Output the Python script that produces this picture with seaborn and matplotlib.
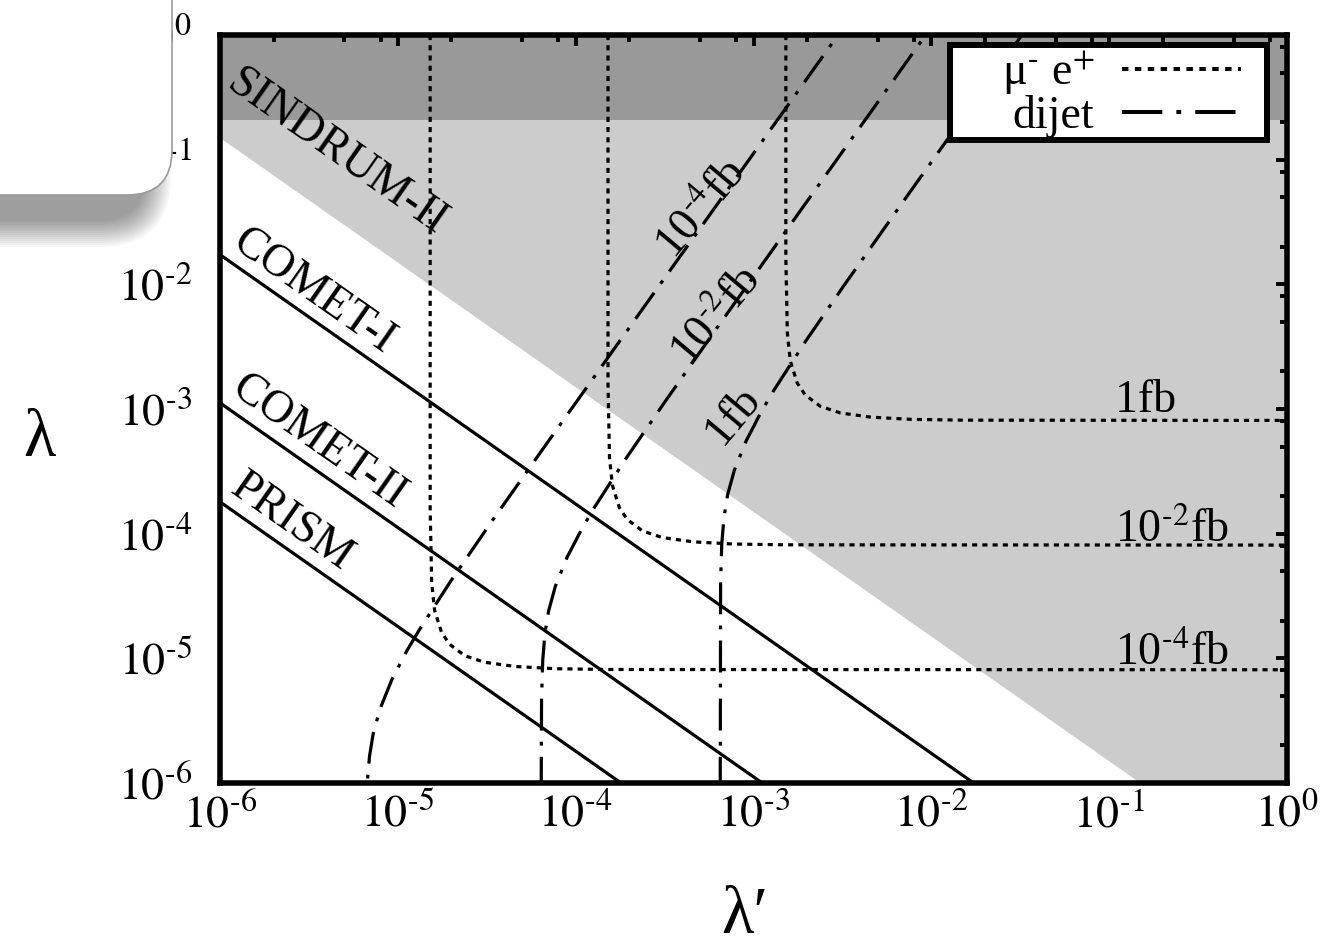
import matplotlib
matplotlib.use("Agg")
import matplotlib.pyplot as plt
import seaborn as sns
from matplotlib.lines import Line2D
from matplotlib.patches import FancyBboxPatch, Rectangle
from matplotlib.ticker import FixedLocator, FixedFormatter, LogLocator, NullFormatter
from matplotlib.transforms import IdentityTransform

# decades on both axes
decades = [1e-6, 1e-5, 1e-4, 1e-3, 1e-2, 1e-1, 1e0]
decade_labels = [r"$10^{\text{-}6}$", r"$10^{\text{-}5}$", r"$10^{\text{-}4}$", r"$10^{\text{-}3}$",
                 r"$10^{\text{-}2}$", r"$10^{\text{-}1}$", r"$10^{0}$"]

# SINDRUM-II excluded region (above lambda*lambda' line) and upper band
sindrum_x = [1e-6, 0.15, 1.0]
sindrum_y = [0.15, 1e-6, 1e-6]
band_low = 0.21

# future mu-e conversion reach
comet1_x = [1e-6, 1.73e-2]
comet1_y = [1.73e-2, 1e-6]
comet2_x = [1e-6, 1.12e-3]
comet2_y = [1.12e-3, 1e-6]
prism_x = [1e-6, 1.8e-4]
prism_y = [1.8e-4, 1e-6]

# mu- e+ cross section contours
mue_1e4_x = [1.52e-5, 1.52e-5, 1.55e-5, 1.61e-5, 1.76e-5, 1.95e-5, 2.38e-5, 3.08e-5, 4.59e-5, 7.7e-5, 1.52e-4, 1.0]
mue_1e4_y = [1.0, 1.6e-4, 4.05e-5, 2.43e-5, 1.62e-5, 1.30e-5, 1.05e-5, 9.3e-6, 8.6e-6, 8.26e-6, 8.14e-6, 8.1e-6]
mue_1e2_x = [1.52e-4, 1.52e-4, 1.55e-4, 1.61e-4, 1.76e-4, 1.95e-4, 2.38e-4, 3.08e-4, 4.59e-4, 7.7e-4, 1.52e-3, 1.0]
mue_1e2_y = [1.0, 1.6e-3, 4.05e-4, 2.43e-4, 1.62e-4, 1.30e-4, 1.05e-4, 9.3e-5, 8.6e-5, 8.26e-5, 8.14e-5, 8.1e-5]
mue_1fb_x = [1.52e-3, 1.52e-3, 1.55e-3, 1.61e-3, 1.76e-3, 1.95e-3, 2.38e-3, 3.08e-3, 4.59e-3, 7.7e-3, 1.52e-2, 1.0]
mue_1fb_y = [1.0, 1.6e-2, 4.05e-3, 2.43e-3, 1.62e-3, 1.30e-3, 1.05e-3, 9.3e-4, 8.6e-4, 8.26e-4, 8.14e-4, 8.1e-4]

# dijet cross section contours
dijet_1e4_x = [6.63e-6, 6.73e-6, 6.93e-6, 7.26e-6, 7.92e-6, 9.24e-6, 1.12e-5, 1.32e-5, 1.98e-5, 3.3e-5, 6.6e-5, 1.98e-4, 6.6e-4, 3.3e-3]
dijet_1e4_y = [4.9e-7, 1.0e-6, 1.64e-6, 2.46e-6, 3.89e-6, 6.71e-6, 1.14e-5, 1.69e-5, 4.15e-5, 1.2e-4, 4.87e-4, 4.4e-3, 4.89e-2, 1.22]
dijet_1e2_x = [6.4e-5, 6.43e-5, 6.53e-5, 6.72e-5, 7.04e-5, 7.68e-5, 8.96e-5, 1.09e-4, 1.28e-4, 1.92e-4, 3.2e-4, 6.4e-4, 1.92e-3, 6.4e-3, 1.28e-2]
dijet_1e2_y = [9e-7, 4.77e-6, 9.7e-6, 1.59e-5, 2.39e-5, 3.77e-5, 6.5e-5, 1.11e-4, 1.64e-4, 4.02e-4, 1.16e-3, 4.72e-3, 4.27e-2, 0.474, 1.9]
dijet_1fb_x = [6.5e-4, 6.53e-4, 6.63e-4, 6.83e-4, 7.15e-4, 7.8e-4, 9.1e-4, 1.105e-3, 1.3e-3, 1.95e-3, 3.25e-3, 6.5e-3, 1.95e-2, 3.9e-2]
dijet_1fb_y = [9e-7, 4.08e-5, 8.3e-5, 1.36e-4, 2.05e-4, 3.23e-4, 5.57e-4, 9.49e-4, 1.41e-3, 3.45e-3, 9.94e-3, 4.04e-2, 0.365, 1.46]

sns.set_style("white")
serif = ["Liberation Serif", "DejaVu Serif"]
plt.rcParams["font.family"] = serif
plt.rcParams["mathtext.fontset"] = "stix"
for key in ["text.color", "axes.labelcolor", "xtick.color", "ytick.color"]:
    plt.rcParams[key] = "black"

LW = 2.3
dotted = (0, (1.6, 1.6))
dashdot = (0, (10, 3.5, 1.2, 3.5))
FS = 33

fig, ax = plt.subplots(figsize=(13.34, 9.49), dpi=100)
fig.subplots_adjust(left=0.1649, right=0.9648, bottom=0.1749, top=0.9631)
ax.set_xscale("log")
ax.set_yscale("log")
ax.set_xlim(1e-6, 1)
ax.set_ylim(1e-6, 1)

# shaded exclusions
ax.fill_between(sindrum_x, sindrum_y, 1.0, color="#cccccc", lw=0, zorder=0.4)
ax.axhspan(band_low, 1.0, color="#999999", lw=0, zorder=0.5)


def draw(xs, ys, ls):
    sns.lineplot(x=xs, y=ys, estimator=None, sort=False, color="black",
                 lw=LW, linestyle=ls, ax=ax, zorder=2)


for xs, ys in [(comet1_x, comet1_y), (comet2_x, comet2_y), (prism_x, prism_y)]:
    draw(xs, ys, "-")
for xs, ys in [(mue_1e4_x, mue_1e4_y), (mue_1e2_x, mue_1e2_y), (mue_1fb_x, mue_1fb_y)]:
    draw(xs, ys, dotted)
for xs, ys in [(dijet_1e4_x, dijet_1e4_y), (dijet_1e2_x, dijet_1e2_y), (dijet_1fb_x, dijet_1fb_y)]:
    draw(xs, ys, dashdot)

# labels of the bounds
lab = dict(transform=ax.transAxes, ha="center", va="center",
           rotation_mode="anchor", fontsize=FS, zorder=3)
ax.text(0.110, 0.842, "SINDRUM-II", rotation=-35, **lab)
ax.text(0.087, 0.657, "COMET-I", rotation=-35, **lab)
ax.text(0.092, 0.456, "COMET-II", rotation=-35, **lab)
ax.text(0.067, 0.349, "PRISM", rotation=-35, **lab)
ax.text(0.452, 0.766, r"10$^{\text{-}4}$fb", rotation=50, **lab)
ax.text(0.466, 0.623, r"10$^{\text{-}2}$fb", rotation=50, **lab)
ax.text(0.481, 0.492, "1fb", rotation=50, **lab)
hl = dict(transform=ax.transAxes, ha="left", va="baseline", fontsize=FS, zorder=3)
ax.text(0.839, 0.496, "1fb", **hl)
ax.text(0.839, 0.322, r"10$^{\text{-}2}$fb", **hl)
ax.text(0.839, 0.158, r"10$^{\text{-}4}$fb", **hl)

# axes styling
for axis in (ax.xaxis, ax.yaxis):
    axis.set_major_locator(FixedLocator(decades))
    axis.set_major_formatter(FixedFormatter(decade_labels))
    axis.set_minor_locator(LogLocator(base=10, subs=[2, 5, 8], numticks=20))
    axis.set_minor_formatter(NullFormatter())
ax.tick_params(which="both", direction="in", top=True, right=True,
               color="black", width=2.8, labelsize=FS)
ax.tick_params(which="major", length=8)
ax.tick_params(which="minor", length=5)
ax.tick_params(axis="x", pad=8)
ax.tick_params(axis="y", pad=20)
for s in ax.spines.values():
    s.set_linewidth(4)
    s.set_color("black")
    s.set_zorder(6)

ax.set_xlabel("λ′", fontsize=48, va="center")
ax.set_ylabel("λ", fontsize=48, rotation=0, va="center", ha="center")
ax.xaxis.set_label_coords(0.492, -0.179)
ax.yaxis.set_label_coords(-0.169, 0.459)

# key: white box with a heavy frame, entries placed inside it
ax.add_patch(Rectangle((0.684, 0.86), 0.297, 0.127, transform=ax.transAxes,
                       fc="white", ec="black", lw=4.3, zorder=6.5))
handles = [Line2D([], [], color="black", lw=LW + 0.6, linestyle=dotted),
           Line2D([], [], color="black", lw=LW + 0.6, linestyle=dashdot)]
leg = ax.legend(handles, [r"μ$^{\text{-}}$ e$^{+}$", "dijet"], loc="upper right",
                bbox_to_anchor=(0.957, 0.980), markerfirst=False, frameon=False,
                handlelength=2.6, handletextpad=0.6, labelspacing=-0.05,
                borderpad=0.0, borderaxespad=0, prop={"family": serif, "size": FS})
leg.set_zorder(7)

# screenshot overlay box in the top-left corner, with its shadow
px = IdentityTransform()
for k in range(14):
    g = 2.0 * k
    fig.add_artist(FancyBboxPatch((-80 - g, 728 - g), 225 + 2 * g, 300,
                                  boxstyle=f"round,pad=0,rounding_size={45 + g}",
                                  transform=px, fc="black", ec="none",
                                  alpha=0.03, zorder=9))
fig.add_artist(FancyBboxPatch((-80, 754), 252, 300,
                              boxstyle="round,pad=0,rounding_size=45",
                              transform=px, fc="white", ec="#9a9a9a", lw=1.2,
                              zorder=10))

fig.savefig("out.png", dpi=100)
